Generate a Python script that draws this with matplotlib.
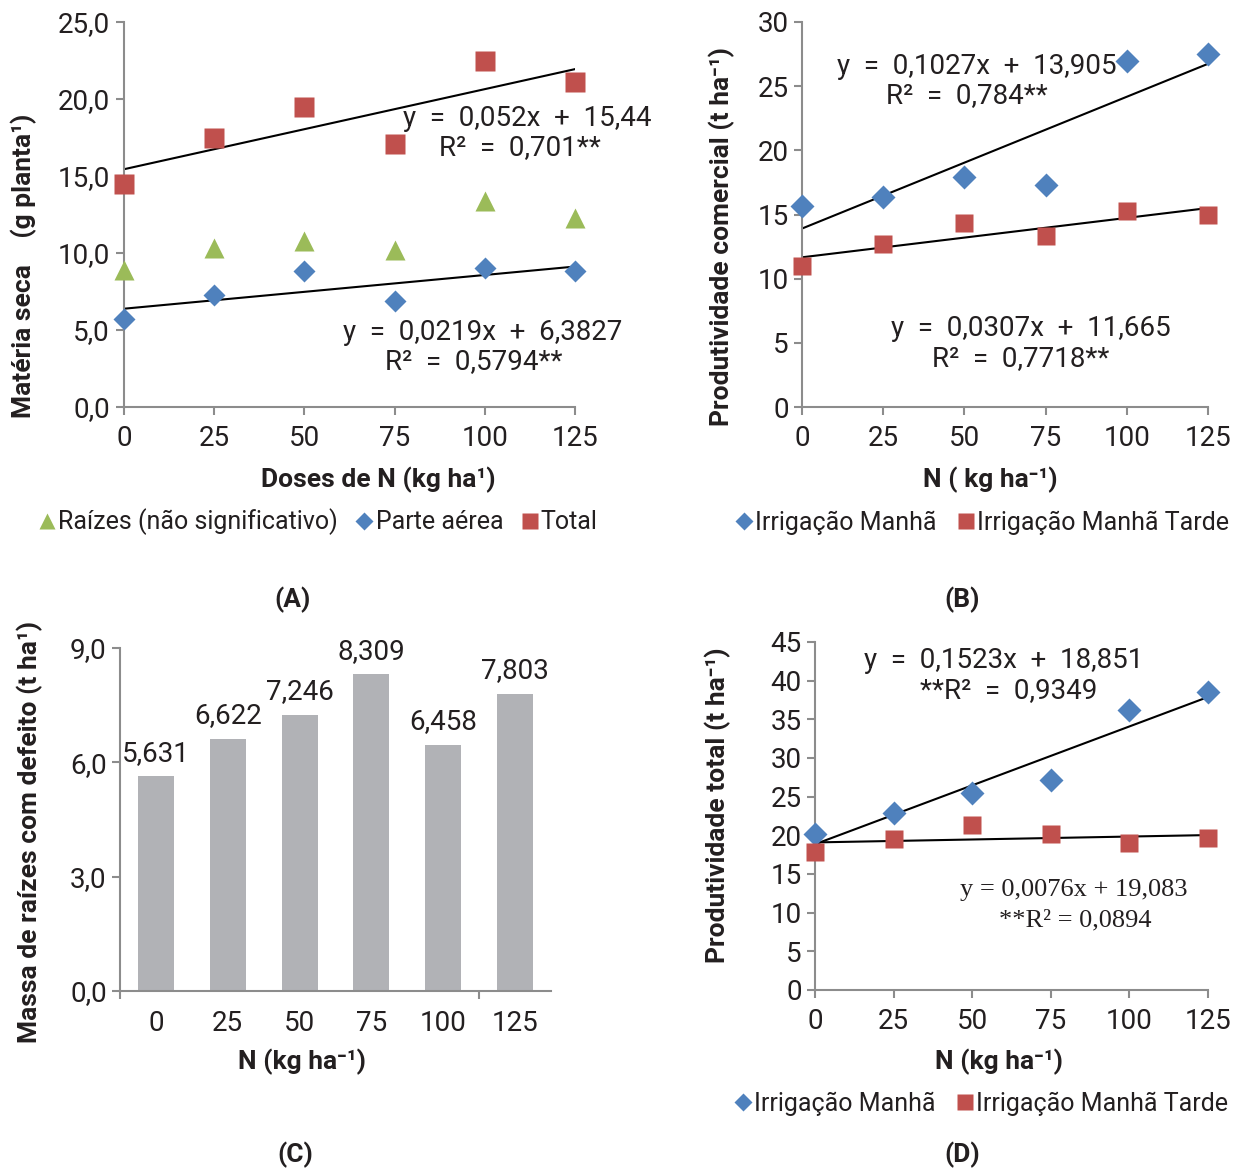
import matplotlib
matplotlib.use("Agg")
import matplotlib.pyplot as plt
from matplotlib.lines import Line2D
import numpy as np

# ---------------- data ----------------
doses = [0, 25, 50, 75, 100, 125]

# (A) Matéria seca
a_raizes = [8.9, 10.3, 10.8, 10.2, 13.4, 12.3]
a_parte_aerea = [5.7, 7.3, 8.8, 6.9, 9.0, 8.8]
a_total = [14.5, 17.5, 19.5, 17.1, 22.5, 21.1]
a_fit_total = (0.052, 15.44)
a_fit_aerea = (0.0219, 6.3827)

# (B) Produtividade comercial
b_manha = [15.7, 16.4, 17.9, 17.3, 27.0, 27.5]
b_manha_tarde = [11.0, 12.7, 14.3, 13.3, 15.3, 15.0]
b_fit_manha = (0.1027, 13.905)
b_fit_manha_tarde = (0.0307, 11.665)

# (C) Massa de raízes com defeito
c_labels = ["0", "25", "50", "75", "100", "125"]
c_values = [5.631, 6.622, 7.246, 8.309, 6.458, 7.803]

# (D) Produtividade total
d_manha = [20.2, 22.9, 25.5, 27.2, 36.2, 38.5]
d_manha_tarde = [17.8, 19.5, 21.3, 20.2, 19.0, 19.7]
d_fit_manha = (0.1523, 18.851)
d_fit_manha_tarde = (0.0076, 19.083)

# ---------------- style ----------------
W, H = 1245, 1173
SANS = ["Roboto", "DejaVu Sans"]
SERIF = ["Liberation Serif", "DejaVu Serif"]
plt.rcParams["font.family"] = SANS
TXT = "#231f20"
AX = "#8c8c8c"
RED = "#C0504D"
BLUE = "#4F81BD"
GREEN = "#9BBB59"
GRAY = "#B1B2B6"
FS = 20      # ticks / annotations
FL = 19      # axis titles
FG = 18      # legends

fig = plt.figure(figsize=(W / 100, H / 100), dpi=100)


def px(x, y):
    return x / W, 1 - y / H


def make_ax(l, t, r, b):
    x0, y1 = px(l, t)
    x1, y0 = px(r, b)
    ax = fig.add_axes([x0, y0, x1 - x0, y1 - y0])
    for s in ["top", "right"]:
        ax.spines[s].set_visible(False)
    for s in ["left", "bottom"]:
        ax.spines[s].set_color(AX)
        ax.spines[s].set_linewidth(1.5)
    ax.tick_params(axis="both", colors=AX, labelcolor=TXT, labelsize=FS,
                   width=1.5, length=6, direction="out")
    ax.patch.set_alpha(0)
    return ax


def ftext(x, y, s, **kw):
    kw.setdefault("fontsize", FS)
    kw.setdefault("color", TXT)
    kw.setdefault("ha", "center")
    kw.setdefault("va", "center")
    fig.text(*px(x, y), s, **kw)


def comma(fmt):
    return lambda v, p=None: (fmt % v).replace(".", ",")


def pts(ax, x, y, marker, color, ms):
    ax.plot(x, y, marker, color=color, ms=ms, mec="none", zorder=3, clip_on=False)


xs = np.array(doses, dtype=float)
xfit = np.array([doses[0], doses[-1]], dtype=float)

# ---------------- (A) ----------------
ax = make_ax(124, 22, 575, 407)
ax.plot(xfit, a_fit_total[0] * xfit + a_fit_total[1], color="black", lw=1.5, zorder=2)
ax.plot(xfit, a_fit_aerea[0] * xfit + a_fit_aerea[1], color="black", lw=1.5, zorder=2)
pts(ax, xs, a_raizes, "^", GREEN, 15)
pts(ax, xs, a_parte_aerea, "D", BLUE, 11)
pts(ax, xs, a_total, "s", RED, 14)
ax.set_xlim(0, 125)
ax.set_ylim(0, 25)
ax.set_xticks(doses)
ax.set_yticks([0, 5, 10, 15, 20, 25])
ax.yaxis.set_major_formatter(matplotlib.ticker.FuncFormatter(comma("%.1f")))
ax.tick_params(axis="x", pad=7)
ax.tick_params(axis="y", pad=4)

ftext(527, 118, "y  =  0,052x  +  15,44")
ftext(520, 148, "R²  =  0,701**")
ftext(483, 332, "y  =  0,0219x  +  6,3827")
ftext(474, 362, "R²  =  0,5794**")
ftext(378, 480, "Doses de N (kg ha¹)", fontweight="bold", fontsize=FL)
ftext(24, 266, "Matéria seca    (g planta¹)", fontweight="bold", rotation=90, fontsize=FL)

hA = [Line2D([], [], ls="none", marker="^", color=GREEN, ms=12, mec="none"),
      Line2D([], [], ls="none", marker="D", color=BLUE, ms=9, mec="none"),
      Line2D([], [], ls="none", marker="s", color=RED, ms=12, mec="none")]
fig.legend(hA, ["Raízes (não significativo)", "Parte aérea", "Total"],
           loc="center", bbox_to_anchor=px(318, 522), ncol=3, frameon=False,
           fontsize=FG, handlelength=0.7, handletextpad=0.1, columnspacing=0.7,
           labelcolor=TXT, borderpad=0, borderaxespad=0)
ftext(293, 600, "(A)", fontweight="bold", fontsize=FL)

# ---------------- (B) ----------------
ax = make_ax(802, 22, 1208, 407)
ax.plot(xfit, b_fit_manha[0] * xfit + b_fit_manha[1], color="black", lw=1.5, zorder=2)
ax.plot(xfit, b_fit_manha_tarde[0] * xfit + b_fit_manha_tarde[1], color="black", lw=1.5, zorder=2)
pts(ax, xs, b_manha, "D", BLUE, 12)
pts(ax, xs, b_manha_tarde, "s", RED, 13)
ax.set_xlim(0, 125)
ax.set_ylim(0, 30)
ax.set_xticks(doses)
ax.set_yticks([0, 5, 10, 15, 20, 25, 30])
ax.tick_params(axis="x", pad=7)

ftext(977, 66, "y  =  0,1027x  +  13,905")
ftext(967, 96, "R²  =  0,784**")
ftext(1031, 329, "y  =  0,0307x  +  11,665")
ftext(1021, 359, "R²  =  0,7718**")
ftext(990, 480, "N ( kg ha⁻¹)", fontweight="bold", fontsize=FL)
ftext(722, 236, "Produtividade comercial (t ha⁻¹)", fontweight="bold", rotation=90, fontsize=FL)

hB = [Line2D([], [], ls="none", marker="D", color=BLUE, ms=9, mec="none"),
      Line2D([], [], ls="none", marker="s", color=RED, ms=12, mec="none")]
fig.legend(hB, ["Irrigação Manhã", "Irrigação Manhã Tarde"],
           loc="center", bbox_to_anchor=px(982, 523), ncol=2, frameon=False,
           fontsize=FG, handlelength=0.7, handletextpad=0.1, columnspacing=0.8,
           labelcolor=TXT, borderpad=0, borderaxespad=0)
ftext(962, 600, "(B)", fontweight="bold", fontsize=FL)

# ---------------- (C) ----------------
ax = make_ax(120, 648, 551, 991)
pos = np.arange(len(c_values))
bars = ax.bar(pos, c_values, width=0.5, color=GRAY, zorder=2)
ax.set_xlim(-0.5, len(c_values) - 0.5)
ax.set_ylim(0, 9)
ax.set_yticks([0, 3, 6, 9])
ax.yaxis.set_major_formatter(matplotlib.ticker.FuncFormatter(comma("%.1f")))
ax.set_xticks(pos)
ax.set_xticklabels(c_labels)
ax.tick_params(axis="x", length=0, pad=14)
ax.set_xticks([-0.5, 4.5], minor=True)
ax.tick_params(axis="x", which="minor", length=6, width=1.5, colors=AX)
for b, v in zip(bars, c_values):
    ax.annotate(("%.3f" % v).replace(".", ","), (b.get_x() + b.get_width() / 2, v),
                xytext=(0, 7), textcoords="offset points", ha="center", va="bottom",
                fontsize=FS, color=TXT, annotation_clip=False)
ftext(302, 1062, "N (kg ha⁻¹)", fontweight="bold", fontsize=FL)
ftext(30, 832, "Massa de raízes com defeito (t ha¹)", fontweight="bold", rotation=90, fontsize=FL)
ftext(295, 1155, "(C)", fontweight="bold", fontsize=FL)

# ---------------- (D) ----------------
ax = make_ax(815, 642, 1208, 990)
ax.plot(xfit, d_fit_manha[0] * xfit + d_fit_manha[1], color="black", lw=1.5, zorder=2)
ax.plot(xfit, d_fit_manha_tarde[0] * xfit + d_fit_manha_tarde[1], color="black", lw=1.5, zorder=2)
pts(ax, xs, d_manha, "D", BLUE, 12)
pts(ax, xs, d_manha_tarde, "s", RED, 13)
ax.set_xlim(0, 125)
ax.set_ylim(0, 45)
ax.set_xticks(doses)
ax.set_yticks(list(range(0, 50, 5)))
ax.tick_params(axis="x", pad=7)

ftext(1004, 661, "y  =  0,1523x  +  18,851")
ftext(1009, 691, "**R²  =  0,9349")
ftext(1074, 890, "y = 0,0076x + 19,083", family=SERIF, fontsize=19)
ftext(1075, 920, "**R² = 0,0894", family=SERIF, fontsize=19)
ftext(999, 1062, "N (kg ha⁻¹)", fontweight="bold", fontsize=FL)
ftext(718, 805, "Produtividade total (t ha⁻¹)", fontweight="bold", rotation=90, fontsize=FL)

fig.legend(hB, ["Irrigação Manhã", "Irrigação Manhã Tarde"],
           loc="center", bbox_to_anchor=px(981, 1104), ncol=2, frameon=False,
           fontsize=FG, handlelength=0.7, handletextpad=0.1, columnspacing=0.8,
           labelcolor=TXT, borderpad=0, borderaxespad=0)
ftext(962, 1155, "(D)", fontweight="bold", fontsize=FL)

fig.savefig("out.png", dpi=100)
